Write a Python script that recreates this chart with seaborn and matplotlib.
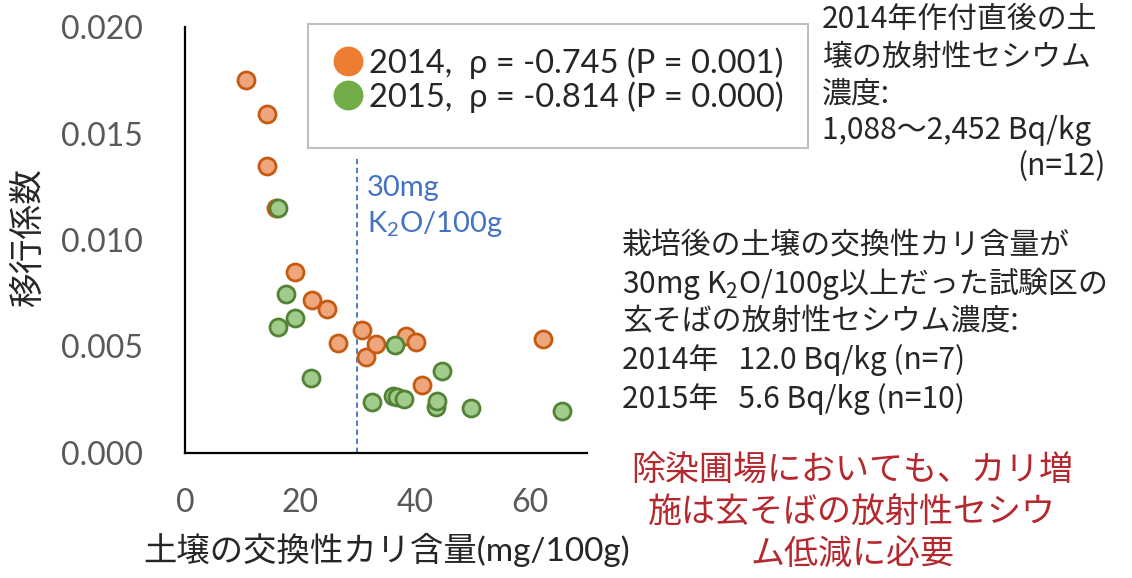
import numpy as np
import pandas as pd
import matplotlib
matplotlib.use('Agg')
import matplotlib.pyplot as plt
from matplotlib.lines import Line2D
from matplotlib.patches import Rectangle
import seaborn as sns

# soil exchangeable K2O (mg/100g) vs transfer factor
x_2014 = [10.6, 14.3, 14.2, 15.8, 19.2, 22.1, 24.7, 26.6, 30.7, 31.4, 33.2, 38.4, 40.2, 41.2, 62.2]
y_2014 = [0.01751, 0.01592, 0.01347, 0.01150, 0.00848, 0.00718, 0.00675, 0.00518,
          0.00577, 0.00449, 0.00512, 0.00549, 0.00521, 0.00318, 0.00535]
x_2015 = [16.1, 16.1, 17.6, 19.1, 22.0, 32.5, 36.1, 36.6, 36.8, 38.1, 43.6, 43.8, 44.7, 49.7, 65.5]
y_2015 = [0.01152, 0.00592, 0.00745, 0.00632, 0.00350, 0.00239, 0.00269, 0.00506,
          0.00262, 0.00255, 0.00217, 0.00244, 0.00384, 0.00213, 0.00197]

legend_labels = ['2014,  ρ = -0.745 (P = 0.001)', '2015,  ρ = -0.814 (P = 0.000)']
x_ticks = [0, 20, 40, 60]
y_ticks = [0.000, 0.005, 0.010, 0.015, 0.020]
k2o_threshold = 30
threshold_top = 0.0138

note_soil = ['2014年作付直後の土', '壌の放射性セシウム', '濃度:', '1,088～2,452 Bq/kg']
note_soil_n = '(n=12)'
note_grain = ['栽培後の土壌の交換性カリ含量が', r'30mg K$_\mathregular{2}$O/100g以上だった試験区の',
              '玄そばの放射性セシウム濃度:', '2014年   12.0 Bq/kg (n=7)', '2015年   5.6 Bq/kg (n=10)']
conclusion = '除染圃場においても、カリ増\n施は玄そばの放射性セシウ\nム低減に必要'

sns.set_style('white')
plt.rcParams['font.family'] = ['Lato', 'Noto Sans CJK JP', 'DejaVu Sans']
JP = ['Noto Sans CJK JP', 'DejaVu Sans']

W, H = 1132, 578
fig = plt.figure(figsize=(W / 100, H / 100), dpi=100)
ax = fig.add_axes([185 / W, 1 - 453 / H, 402.5 / W, 426 / H])


def px(x, y):
    return x / W, 1 - y / H


df = pd.concat([
    pd.DataFrame({'k2o': x_2014, 'tf': y_2014, 'year': '2014'}),
    pd.DataFrame({'k2o': x_2015, 'tf': y_2015, 'year': '2015'}),
])

styles = {'2014': ('#EFA67C', '#C55A11'), '2015': ('#A2CC8C', '#548235')}
for year, (face, edge) in styles.items():
    sns.scatterplot(data=df[df['year'] == year], x='k2o', y='tf', ax=ax,
                    color=face, edgecolor=edge, linewidth=2.0, s=150, zorder=3, legend=False)

ax.vlines(k2o_threshold, 0, threshold_top, colors='#4472C4', linestyles=(0, (3, 2)), linewidth=1.3, zorder=2)
ax.text(k2o_threshold + 1.6, 0.01155, '30mg\n' + r'K$_\mathregular{2}$O/100g', color='#4472C4',
        fontsize=21, va='center', ha='left', linespacing=1.35)

ax.set_xlim(0, 70)
ax.set_ylim(0, 0.020)
ax.set_xticks(x_ticks)
ax.set_yticks(y_ticks)
ax.set_yticklabels([f'{v:.3f}' for v in y_ticks])
for side in ['top', 'right']:
    ax.spines[side].set_visible(False)
for side in ['left', 'bottom']:
    ax.spines[side].set_color('black')
    ax.spines[side].set_linewidth(1.6)
ax.tick_params(axis='y', direction='in', length=8.5, width=1.5, pad=30, labelsize=23, labelcolor='#595959')
ax.tick_params(axis='x', direction='in', length=7, width=1.5, pad=25, labelsize=23, labelcolor='#595959')

ax.set_xlabel('土壌の交換性カリ含量(mg/100g)', fontsize=24)
ax.xaxis.label.set_va('center')
ax.xaxis.set_label_coords(0.5, -0.228)
ax.set_ylabel('移行係数', fontsize=25)
ax.yaxis.label.set_va('center')
ax.yaxis.set_label_coords(-0.39, 0.505)

# legend: frame drawn separately so its padding can match the original box
fig.add_artist(Rectangle(px(308, 148), 500 / W, 124 / H, transform=fig.transFigure,
                         fill=False, edgecolor='#BFBFBF', linewidth=1.5))
handles = [Line2D([], [], marker='o', ls='', markersize=21.5, color=c, markeredgewidth=0)
           for c in ['#ED7D31', '#70AD47']]
ax.legend(handles, legend_labels, loc='center left', bbox_to_anchor=px(332, 80),
          bbox_transform=fig.transFigure, borderaxespad=0, borderpad=0, frameon=False,
          fontsize=23.5, handlelength=1.0, handletextpad=0.12, labelspacing=0.08)

for i, line in enumerate(note_soil):
    fig.text(*px(822, 20 + 37 * i), line, fontsize=21.5, va='center', ha='left', family=JP)
fig.text(*px(1106, 167), note_soil_n, fontsize=21.5, va='center', ha='right', family=JP)

for i, line in enumerate(note_grain):
    fig.text(*px(622, 245 + 38.5 * i), line, fontsize=21.5, va='center', ha='left', family=JP)

fig.text(*px(852, 513), conclusion, fontsize=24.5, color='#B5282E', va='center', ha='center',
         linespacing=1.25, family=JP)

fig.savefig('out.png', dpi=100)
